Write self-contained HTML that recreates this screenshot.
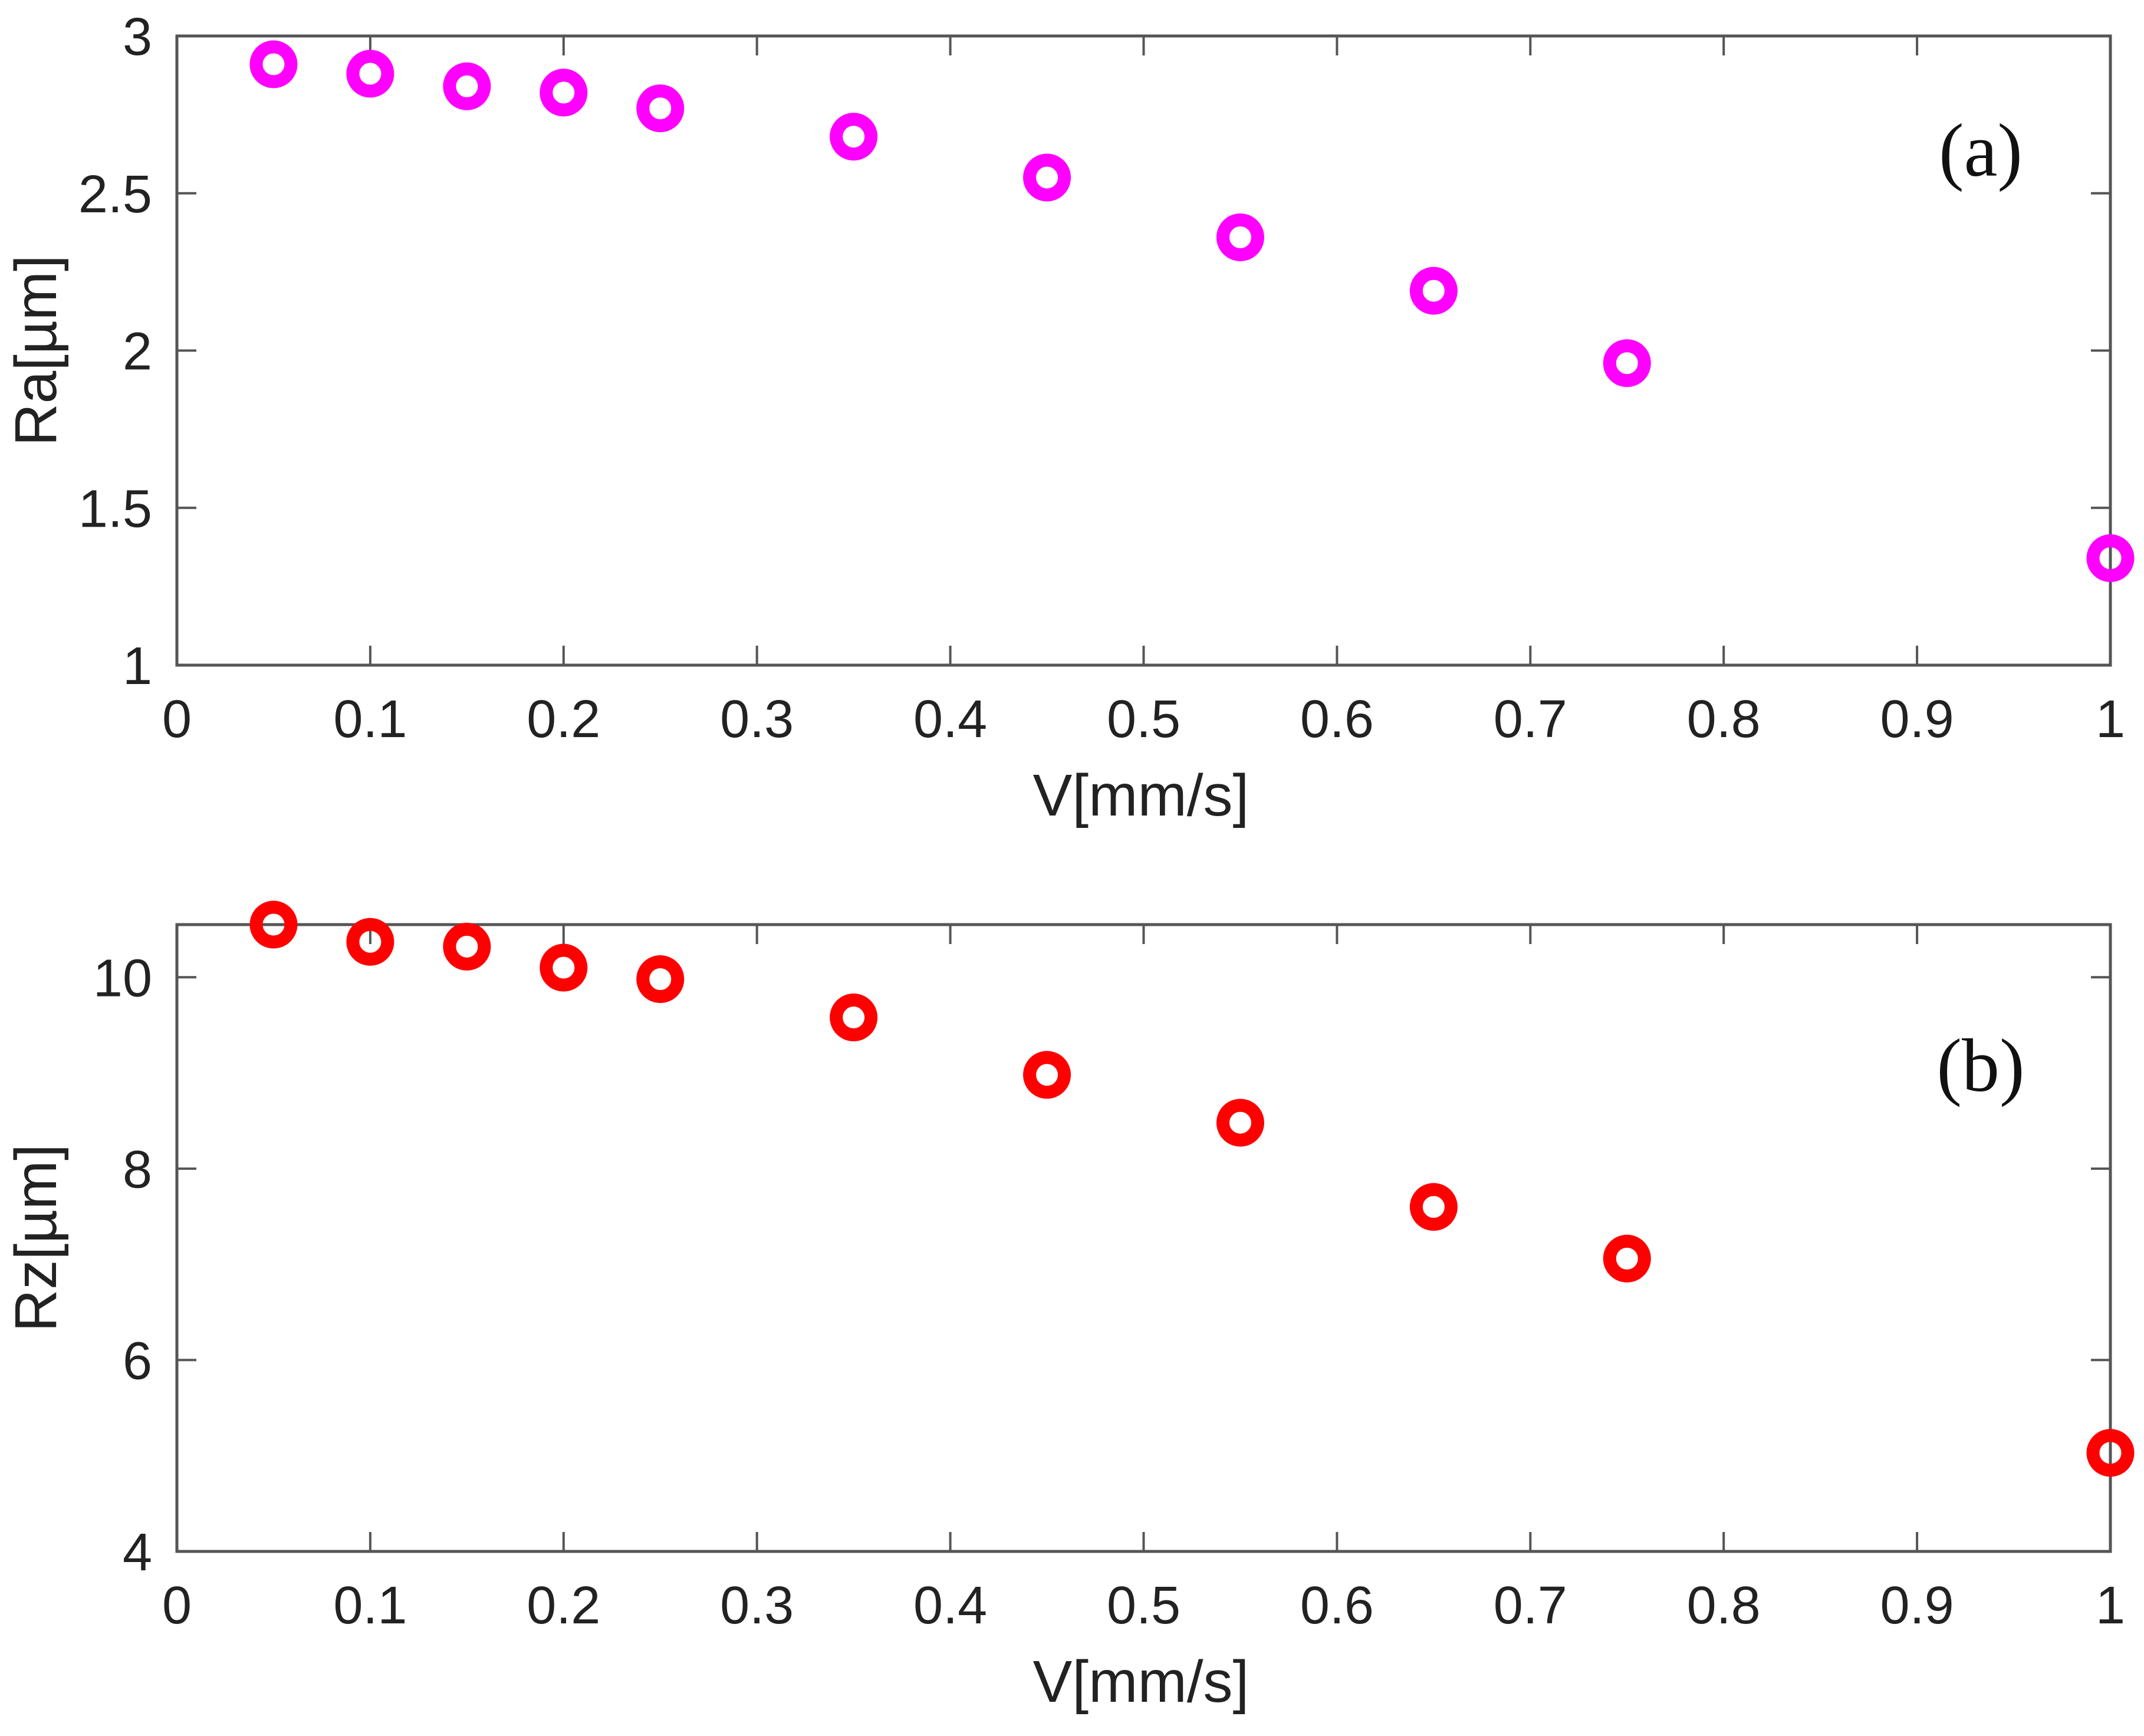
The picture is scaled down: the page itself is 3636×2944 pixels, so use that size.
<!DOCTYPE html>
<html><head><meta charset="utf-8"><style>
html,body{margin:0;padding:0;background:#fff;}
svg{display:block;}
</style></head><body>
<svg id="chart" width="3636" height="2944" viewBox="0 0 3636 2944" xmlns="http://www.w3.org/2000/svg">
<rect x="0" y="0" width="3636" height="2944" fill="#fff"/>
</svg>
<script>
const speeds = [0.05,0.1,0.15,0.2,0.25,0.35,0.45,0.55,0.65,0.75,1.0];
const raValues = [2.91,2.88,2.84,2.82,2.77,2.68,2.55,2.36,2.19,1.96,1.34];
const rzValues = [10.55,10.37,10.32,10.1,9.98,9.58,8.98,8.48,7.6,7.06,5.03];
const xTicks = [0,0.1,0.2,0.3,0.4,0.5,0.6,0.7,0.8,0.9,1];
const xTickLabels = ['0','0.1','0.2','0.3','0.4','0.5','0.6','0.7','0.8','0.9','1'];
const raTicks = [1,1.5,2,2.5,3];
const raTickLabels = ['1','1.5','2','2.5','3'];
const rzTicks = [4,6,8,10];
const rzTickLabels = ['4','6','8','10'];

const NS='http://www.w3.org/2000/svg';
const svg=document.getElementById('chart');
function mk(tag,attrs,parent){const e=document.createElementNS(NS,tag);for(const k in attrs)e.setAttribute(k,attrs[k]);(parent||svg).appendChild(e);return e;}

function panel(cfg){
  const g=mk('g',{});
  
  
  const L=300,R=3579,T=cfg.top,B=cfg.bottom;
  const xs=v=>L+(v-0)/(1-0)*(R-L);
  const ys=v=>B-(v-cfg.ymin)/(cfg.ymax-cfg.ymin)*(B-T);
  const box=mk('rect',{x:L,y:T,width:R-L,height:B-T,fill:'none',stroke:'#555','stroke-width':5},g);
  
  
  xTicks.forEach((t,i)=>{
    const x=xs(t);
    mk('line',{x1:x,y1:B,x2:x,y2:B-33,stroke:'#555','stroke-width':4},g);
    mk('line',{x1:x,y1:T,x2:x,y2:T+33,stroke:'#555','stroke-width':4},g);
    const tx=mk('text',{x:x,y:B+122,'text-anchor':'middle','font-family':'Liberation Sans, sans-serif','font-size':90,fill:'#222'},g);
    tx.textContent=xTickLabels[i];
    
    
  });
  cfg.yTicks.forEach((t,i)=>{
    const y=ys(t);
    mk('line',{x1:L,y1:y,x2:L+33,y2:y,stroke:'#555','stroke-width':4},g);
    mk('line',{x1:R,y1:y,x2:R-33,y2:y,stroke:'#555','stroke-width':4},g);
    const tx=mk('text',{x:258,y:y+32,'text-anchor':'end','font-family':'Liberation Sans, sans-serif','font-size':90,fill:'#222'},g);
    tx.textContent=cfg.yLabels[i];
    
    
  });
  const xl=mk('text',{x:1935,y:B+255,'text-anchor':'middle','font-family':'Liberation Sans, sans-serif','font-size':100,fill:'#222'},g);
  xl.textContent='V[mm/s]';
  
  
  const cy=(T+B)/2;
  const yl=mk('text',{x:0,y:0,transform:'translate(95,'+cy+') rotate(-90)','text-anchor':'middle','font-family':'Liberation Sans, sans-serif','font-size':100,fill:'#222'},g);
  yl.textContent=cfg.ylabel;
  
  
  const pl=mk('text',{x:3359,y:cfg.panelY,'text-anchor':'middle','font-family':'Liberation Serif, serif','font-size':128,fill:'#111'},g);
  pl.textContent=cfg.panelLabel;
  
  
  speeds.forEach((s,i)=>{
    const c=mk('circle',{cx:xs(s),cy:ys(cfg.values[i]),r:29.5,fill:'none',stroke:cfg.color,'stroke-width':22},g);
    
    
  });
}
panel({name:'ra-panel',top:61,bottom:1128,ymin:1,ymax:3,yTicks:raTicks,yLabels:raTickLabels,values:raValues,color:'#ff00ff',ylabel:'Ra[µm]',panelLabel:'(a)',panelY:298});
panel({name:'rz-panel',top:1568,bottom:2631,ymin:4,ymax:10.55,yTicks:rzTicks,yLabels:rzTickLabels,values:rzValues,color:'#ff0000',ylabel:'Rz[µm]',panelLabel:'(b)',panelY:1850});
</script>
</body></html>
